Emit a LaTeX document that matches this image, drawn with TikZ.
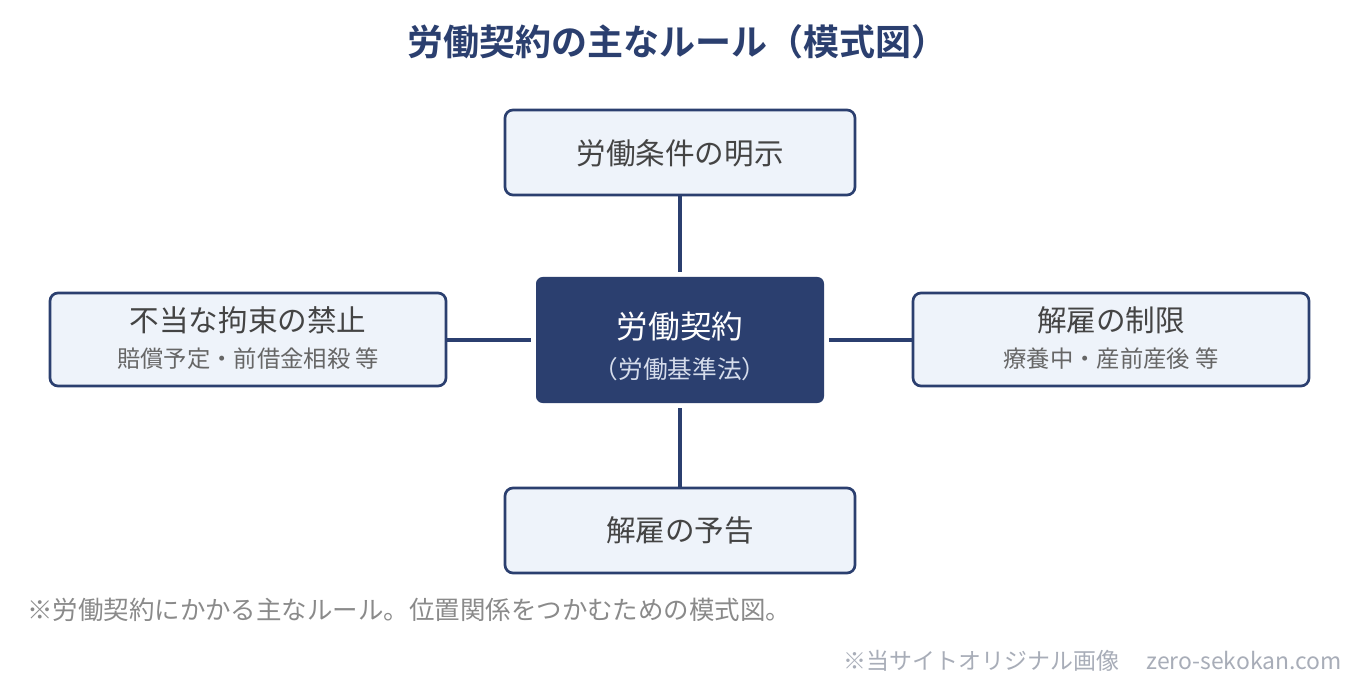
\documentclass[tikz,border=0pt]{standalone}
\usepackage{fontspec}
\setmainfont{Noto Sans CJK JP}
\newfontfamily\jpbold{Noto Sans CJK JP Bold}
\definecolor{navy}{HTML}{2B3F6F}
\definecolor{boxfill}{HTML}{EEF3FA}
\definecolor{txtdark}{HTML}{444444}
\definecolor{txtsub}{HTML}{666666}
\definecolor{notegray}{HTML}{8A8A8A}
\definecolor{creditgray}{HTML}{A8ADB8}
\definecolor{subwhite}{HTML}{D5DCEB}
\begin{document}
\begin{tikzpicture}[x=0.75pt,y=-0.75pt,
  sidebox/.style={draw=navy,fill=boxfill,line width=2pt,rounded corners=6pt},
  mainbox/.style={fill=navy,rounded corners=5pt},
  link/.style={draw=navy,line width=2.4pt},
  maintxt/.style={font=\fontsize{22.2}{25}\selectfont,text=txtdark},
  subtxt/.style={font=\fontsize{17.5}{20}\selectfont,text=txtsub}]
\useasboundingbox (0,0) rectangle (1360,684);
\fill[white] (0,0) rectangle (1360,684);
% title
\node[font=\jpbold\fontsize{27}{30}\selectfont,text=navy] (title) at (677,42) {労働契約の主なルール（模式図）};
% boxes
\path[sidebox] (505,110) rectangle (855,195);
\coordinate (topS) at (680,195);
\path[mainbox] (536,277) rectangle (824,403);
\coordinate (cN) at (680,272); \coordinate (cS) at (680,408);
\coordinate (cW) at (531,340); \coordinate (cE) at (829,340);
\path[sidebox] (50,293) rectangle (446,386);
\coordinate (leftE) at (446,340);
\path[sidebox] (913,293) rectangle (1309,386);
\coordinate (rightW) at (913,340);
\path[sidebox] (505,488) rectangle (855,573);
\coordinate (botN) at (680,488);
% connectors
\draw[link] (topS) -- (cN);
\draw[link] (cS) -- (botN);
\draw[link] (leftE) -- (cW);
\draw[link] (cE) -- (rightW);
% texts
\node[maintxt] (t1) at (680,153) {労働条件の明示};
\node[font=\fontsize{23.7}{26}\selectfont,text=white] (c1) at (680,327) {労働契約};
\node[font=\fontsize{18.5}{21}\selectfont,text=subwhite] (c2) at (680,369) {（労働基準法）};
\node[maintxt] (l1) at (248,320) {不当な拘束の禁止};
\node[subtxt] (l2) at (248,359) {賠償予定・前借金相殺 等};
\node[maintxt] (r1) at (1111,320) {解雇の制限};
\node[subtxt] (r2) at (1111,359) {療養中・産前産後 等};
\node[maintxt] (b1) at (680,530) {解雇の予告};
\node[anchor=west,font=\fontsize{19.1}{22}\selectfont,text=notegray,inner sep=0pt] (note) at (27,610) {※労働契約にかかる主なルール。位置関係をつかむための模式図。};
\node[anchor=east,font=\fontsize{17.2}{20}\selectfont,text=creditgray,inner sep=0pt] (credit) at (1342,661) {※当サイトオリジナル画像\hspace{1.2em}zero-sekokan.com};
\end{tikzpicture}
\end{document}
